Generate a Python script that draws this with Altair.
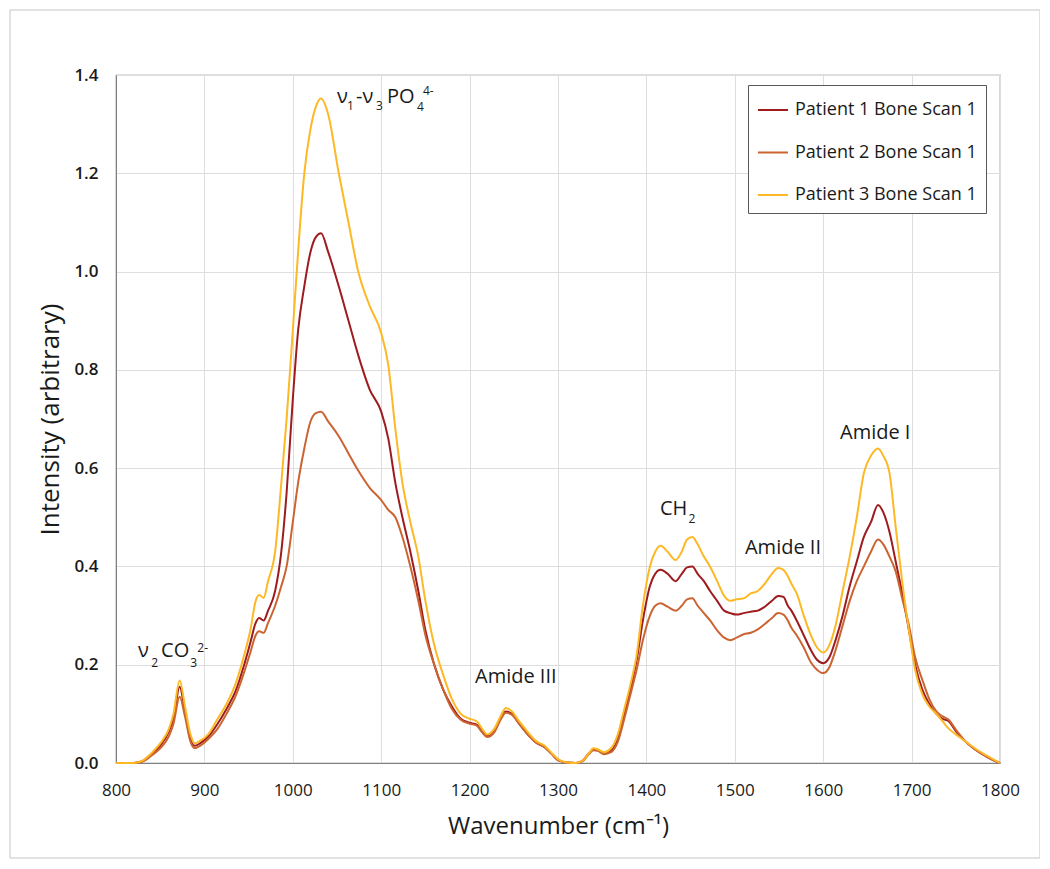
import altair as alt
import pandas as pd

wavenumber = [800, 820, 830, 840, 850, 860, 865, 872, 878, 884, 889, 895, 905, 915, 925, 935, 945, 952, 958, 962,
              967, 972, 980, 987, 993, 1000, 1006, 1013, 1020, 1026, 1032, 1040, 1052, 1063, 1074, 1087, 1100, 1108,
              1116, 1124, 1133, 1142, 1150, 1160, 1170, 1180, 1190, 1200, 1208, 1214, 1220, 1228, 1235, 1241, 1248,
              1256, 1265, 1275, 1285, 1293, 1300, 1310, 1320, 1328, 1335, 1340, 1345, 1352, 1360, 1368, 1375, 1382,
              1389, 1396, 1404, 1410, 1416, 1424, 1433, 1440, 1446, 1452, 1458, 1465, 1472, 1480, 1488, 1495, 1502,
              1510, 1518, 1526, 1534, 1542, 1549, 1555, 1560, 1564, 1570, 1578, 1586, 1593, 1600, 1607, 1614, 1622,
              1630, 1638, 1646, 1654, 1662, 1668, 1675, 1682, 1690, 1697, 1704, 1712, 1720, 1728, 1735, 1742, 1750,
              1760, 1770, 1780, 1790, 1800]

patient1 = [0.0, 0.0, 0.004, 0.018, 0.035, 0.065, 0.09, 0.155, 0.105, 0.05, 0.035, 0.04, 0.055, 0.08, 0.11, 0.145,
            0.2, 0.245, 0.285, 0.295, 0.29, 0.31, 0.35, 0.43, 0.55, 0.74, 0.88, 0.97, 1.04, 1.07, 1.078, 1.04, 0.97,
            0.9, 0.83, 0.76, 0.715, 0.66, 0.57, 0.5, 0.43, 0.35, 0.27, 0.2, 0.15, 0.115, 0.09, 0.082, 0.078, 0.065,
            0.055, 0.065, 0.09, 0.105, 0.1, 0.08, 0.06, 0.042, 0.032, 0.018, 0.006, 0.001, 0.0, 0.005, 0.02, 0.028,
            0.026, 0.02, 0.025, 0.05, 0.1, 0.15, 0.21, 0.29, 0.36, 0.385, 0.393, 0.385, 0.37, 0.385, 0.398, 0.4,
            0.385, 0.37, 0.35, 0.33, 0.31, 0.305, 0.302, 0.305, 0.308, 0.31, 0.318, 0.33, 0.34, 0.338, 0.32, 0.31,
            0.29, 0.26, 0.23, 0.21, 0.203, 0.215, 0.25, 0.3, 0.36, 0.41, 0.46, 0.49, 0.525, 0.51, 0.47, 0.41, 0.34,
            0.27, 0.2, 0.15, 0.12, 0.1, 0.09, 0.085, 0.065, 0.045, 0.03, 0.018, 0.008, 0.0]

patient2 = [0.0, 0.0, 0.003, 0.015, 0.03, 0.055, 0.08, 0.135, 0.095, 0.045, 0.03, 0.035, 0.05, 0.07, 0.1, 0.135,
            0.185, 0.225, 0.26, 0.268, 0.265, 0.285, 0.32, 0.36, 0.4, 0.49, 0.57, 0.64, 0.695, 0.712, 0.715, 0.695,
            0.665, 0.63, 0.595, 0.56, 0.535, 0.515, 0.5, 0.46, 0.4, 0.33, 0.26, 0.2, 0.15, 0.11, 0.088, 0.08, 0.076,
            0.063, 0.053, 0.063, 0.088, 0.102, 0.098, 0.08, 0.06, 0.042, 0.032, 0.018, 0.006, 0.001, 0.0, 0.004,
            0.018, 0.026, 0.025, 0.018, 0.022, 0.045, 0.09, 0.14, 0.19, 0.25, 0.3, 0.32, 0.325, 0.318, 0.31, 0.32,
            0.333, 0.335, 0.32, 0.305, 0.29, 0.27, 0.255, 0.25, 0.255, 0.262, 0.265, 0.272, 0.283, 0.295, 0.305,
            0.302, 0.29, 0.275, 0.26, 0.235, 0.205, 0.19, 0.183, 0.195, 0.23, 0.28, 0.33, 0.37, 0.4, 0.43, 0.455,
            0.445, 0.42, 0.39, 0.33, 0.28, 0.215, 0.17, 0.13, 0.105, 0.095, 0.088, 0.068, 0.046, 0.03, 0.018, 0.008,
            0.0]

patient3 = [0.0, 0.0, 0.005, 0.02, 0.04, 0.07, 0.1, 0.168, 0.115, 0.06, 0.04, 0.045, 0.06, 0.09, 0.12, 0.16, 0.22,
            0.27, 0.33, 0.342, 0.336, 0.37, 0.43, 0.57, 0.7, 0.88, 1.04, 1.2, 1.29, 1.335, 1.352, 1.32, 1.2, 1.1,
            1.0, 0.93, 0.875, 0.81, 0.68, 0.57, 0.49, 0.42, 0.33, 0.24, 0.18, 0.13, 0.1, 0.09, 0.085, 0.07, 0.058,
            0.07, 0.095, 0.112, 0.105, 0.085, 0.065, 0.045, 0.035, 0.02, 0.008, 0.001, 0.0, 0.005, 0.02, 0.03,
            0.028, 0.022, 0.03, 0.06, 0.11, 0.16, 0.22, 0.32, 0.4, 0.43, 0.442, 0.43, 0.413, 0.43, 0.455, 0.46,
            0.445, 0.42, 0.4, 0.37, 0.34, 0.33, 0.333, 0.335, 0.345, 0.35, 0.365, 0.385, 0.397, 0.393, 0.38, 0.365,
            0.345, 0.3, 0.26, 0.235, 0.225, 0.24, 0.28, 0.35, 0.42, 0.5, 0.59, 0.625, 0.64, 0.625, 0.59, 0.48, 0.36,
            0.27, 0.19, 0.14, 0.115, 0.1, 0.085, 0.07, 0.058, 0.045, 0.032, 0.02, 0.01, 0.0]

series_names = ["Patient 1 Bone Scan 1", "Patient 2 Bone Scan 1", "Patient 3 Bone Scan 1"]
series_colors = ["#9E1B1E", "#CB6431", "#FDB825"]

x_ticks = [800, 900, 1000, 1100, 1200, 1300, 1400, 1500, 1600, 1700, 1800]
y_ticks = [0.0, 0.2, 0.4, 0.6, 0.8, 1.0, 1.2, 1.4]

# annotation pieces: text, wavenumber, intensity, font size
ann_text = ["ν", "2", "CO", "3", "2-",
            "ν", "1", "-ν", "3", "PO", "4", "4-",
            "Amide III", "CH", "2", "Amide II", "Amide I"]
ann_x = [824.9, 840.0, 851.0, 884.0, 892.0,
         1050.0, 1061.3, 1071.5, 1094.1, 1106.6, 1140.5, 1147.3,
         1206.1, 1415.4, 1447.5, 1511.5, 1619.0]
ann_y = [0.2157, 0.1953, 0.2157, 0.1953, 0.2258,
         1.3428, 1.3286, 1.3428, 1.3286, 1.3428, 1.3266, 1.3591,
         0.1628, 0.5046, 0.4883, 0.4252, 0.6592]
ann_size = [20, 12, 20, 12, 12,
            20, 12, 20, 12, 20, 12, 12,
            20, 20, 12, 20, 20]

FONT = "Open Sans"

rows = []
for name, vals in zip(series_names, [patient1, patient2, patient3]):
    for w, v in zip(wavenumber, vals):
        rows.append({"wavenumber": w, "intensity": v, "series": name})
df = pd.DataFrame(rows)

ann_df = pd.DataFrame({"text": ann_text, "x": ann_x, "y": ann_y, "size": ann_size})

x_scale = alt.Scale(domain=[800, 1800], nice=False, zero=False)
y_scale = alt.Scale(domain=[0, 1.4], nice=False)

lines = alt.Chart(df).mark_line(strokeWidth=2, interpolate="monotone").encode(
    x=alt.X("wavenumber:Q", scale=x_scale,
            axis=alt.Axis(values=x_ticks, format="d", title="Wavenumber (cm⁻¹)",
                          labelFontSize=17, labelPadding=19, titleFontSize=24,
                          titleFontWeight="normal", titlePadding=16, ticks=False,
                          domainColor="#7f7f7f", gridColor="#dedede", labelColor="#1a1a1a",
                          titleColor="#1a1a1a", labelFlush=False)),
    y=alt.Y("intensity:Q", scale=y_scale,
            axis=alt.Axis(values=y_ticks, format=".1f", title="Intensity (arbitrary)",
                          labelFontSize=17, labelFontWeight=600, labelPadding=18,
                          titleFontSize=26, titleFontWeight="normal", titlePadding=10,
                          ticks=False, domainColor="#7f7f7f", gridColor="#dedede",
                          labelColor="#1a1a1a", titleColor="#1a1a1a", labelFlush=False)),
    color=alt.Color("series:N", scale=alt.Scale(domain=series_names, range=series_colors),
                    legend=alt.Legend(title=None, orient="none", legendX=632, legendY=10,
                                      symbolType="stroke", symbolSize=900, symbolStrokeWidth=2,
                                      labelFontSize=18, labelFont=FONT, labelLimit=400,
                                      labelColor="#1a1a1a", labelOffset=6,
                                      padding=9, rowPadding=17.5, strokeColor="#595959",
                                      fillColor="white", cornerRadius=0)),
    order=alt.Order("wavenumber:Q"),
)

annotations = alt.Chart(ann_df).mark_text(align="left", baseline="alphabetic", font=FONT,
                                           color="#1a1a1a").encode(
    x=alt.X("x:Q", scale=x_scale),
    y=alt.Y("y:Q", scale=y_scale),
    text="text:N",
    size=alt.Size("size:Q", scale=None, legend=None),
)

frame = alt.Chart(pd.DataFrame({"k": [0]})).mark_rect(fill=None, stroke="#d9d9d9",
                                                       strokeWidth=1.5).encode(
    x=alt.value(-106), x2=alt.value(924), y=alt.value(-65), y2=alt.value(783)
)

chart = alt.layer(frame, lines, annotations).properties(
    width=884, height=688,
    autosize=alt.AutoSizeParams(type="none"),
    padding={"left": 108, "top": 67, "right": 40, "bottom": 100},
    background="white",
).configure(font=FONT).configure_view(stroke="#7f7f7f", strokeWidth=1.2)

chart.save("out.html", embed_options={"renderer": "svg", "actions": False})
